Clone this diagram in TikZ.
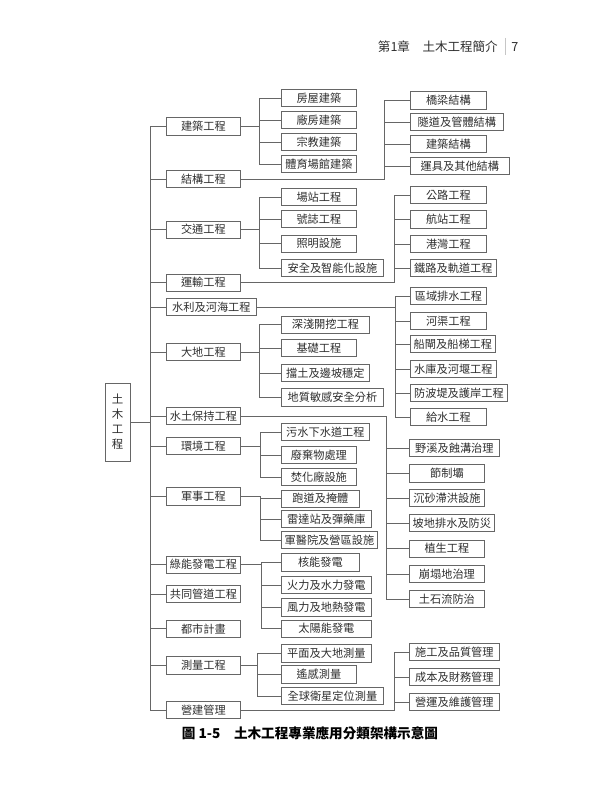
\documentclass[tikz,border=0pt]{standalone}
\usepackage{fontspec}
\setmainfont{Noto Sans CJK TC}
\definecolor{linegray}{HTML}{666666}
\definecolor{textgray}{HTML}{2E2E2E}

\begin{document}
\begin{tikzpicture}[x=0.75pt,y=-0.75pt,
    box/.style={draw=linegray,line width=0.6pt,minimum height=13pt,inner sep=0pt,
      anchor=west,text=textgray,font=\fontsize{8.4}{10}\selectfont},
    wd/.style={minimum width={#1*0.75pt}},
    link/.style={draw=linegray,line width=0.6pt}]
    \useasboundingbox (0,0) rectangle (600,812);
    %% Header
    \node[anchor=east,inner sep=0pt,text=textgray,font=\fontsize{9.4}{11}\selectfont]
        (hd) at (498,46.7) {第1章　土木工程簡介};
    \draw[gray!45,line width=0.5pt] (505.7,38) -- (505.7,55);
    \node[anchor=west,inner sep=0pt,text=textgray,font=\fontsize{9.4}{11}\selectfont]
        (pg) at (511,46.7) {7};
    %% Root
    \node[draw=linegray,line width=0.6pt,minimum width=18.75pt,minimum height=58.5pt,
        inner sep=0pt,align=center,text=textgray,font=\fontsize{8.6}{11.25}\selectfont]
        (root) at (117.5,422) {土\\木\\工\\程};
    %% First level
    \node[box,wd=74] (jz) at (166,126.5) {建築工程};
    \node[box,wd=74] (jg) at (166,179) {結構工程};
    \node[box,wd=74] (jt) at (166,229.7) {交通工程};
    \node[box,wd=74] (ys) at (166,282.7) {運輸工程};
    \node[box,wd=90] (sl) at (166,307) {水利及河海工程};
    \node[box,wd=74] (dd) at (166,352) {大地工程};
    \node[box,wd=74] (st) at (166,416) {水土保持工程};
    \node[box,wd=74] (hj) at (166,446) {環境工程};
    \node[box,wd=74] (js) at (166,496.5) {軍事工程};
    \node[box,wd=74] (ln) at (166,564.7) {綠能發電工程};
    \node[box,wd=74] (gt) at (166,594) {共同管道工程};
    \node[box,wd=74] (ds) at (166,628.7) {都市計畫};
    \node[box,wd=74] (cl) at (166,665.5) {測量工程};
    \node[box,wd=74] (yj) at (166,710) {營建管理};
    %% Trunk
    \coordinate (tk) at (150,422);
    \draw[link] (root.east) -- (tk);
    \foreach \c in {jz,jg,jt,ys,sl,dd,st,hj,js,ln,gt,ds,cl,yj}
        \draw[link] (tk) |- (\c.west);
    %% Middle column
    \node[box,wd=75] (fw) at (281,98) {房屋建築};
    \node[box,wd=75] (cf) at (281,120) {廠房建築};
    \node[box,wd=75] (zj) at (281,142) {宗教建築};
    \node[box,wd=75] (ty) at (281,164) {體育場館建築};
    \node[box,wd=75] (cz) at (281,197) {場站工程};
    \node[box,wd=75] (hz) at (281,219) {號誌工程};
    \node[box,wd=75] (zm) at (281,243.7) {照明設施};
    \node[box,wd=102] (aq) at (281,268) {安全及智能化設施};
    \node[box,wd=88] (sq) at (281,324.7) {深淺開挖工程};
    \node[box,wd=75] (jc) at (281,348) {基礎工程};
    \node[box,wd=88] (dt) at (281,373) {擋土及邊坡穩定};
    \node[box,wd=102] (dz) at (281,397.5) {地質敏感安全分析};
    \node[box,wd=88] (ws) at (281,432) {污水下水道工程};
    \node[box,wd=75] (fq) at (281,455) {廢棄物處理};
    \node[box,wd=75] (fh) at (281,477) {焚化廠設施};
    \node[box,wd=78] (pd) at (281,498.7) {跑道及掩體};
    \node[box,wd=90] (ld) at (281,519) {雷達站及彈藥庫};
    \node[box,wd=96] (jy) at (281,540) {軍醫院及營區設施};
    \node[box,wd=78] (hn) at (281,562.5) {核能發電};
    \node[box,wd=90] (hl) at (281,585) {火力及水力發電};
    \node[box,wd=90] (fl) at (281,607.5) {風力及地熱發電};
    \node[box,wd=90] (ty2) at (281,628.7) {太陽能發電};
    \node[box,wd=90] (pm) at (281,653.5) {平面及大地測量};
    \node[box,wd=75] (yg) at (281,674.5) {遙感測量};
    \node[box,wd=102] (qq) at (281,696) {全球衛星定位測量};
    %% Right column
    \node[box,wd=76] (ql) at (410,100.5) {橋梁結構};
    \node[box,wd=93] (sd) at (410,122) {隧道及管體結構};
    \node[box,wd=76] (jj) at (410,144) {建築結構};
    \node[box,wd=99] (yjq) at (410,166) {運具及其他結構};
    \node[box,wd=76] (gl) at (410,195) {公路工程};
    \node[box,wd=76] (hzz) at (410,219.5) {航站工程};
    \node[box,wd=76] (gw) at (410,244) {港灣工程};
    \node[box,wd=86] (tl) at (410,268) {鐵路及軌道工程};
    \node[box,wd=76] (qy) at (410,296) {區域排水工程};
    \node[box,wd=76] (hq) at (410,321) {河渠工程};
    \node[box,wd=85] (cz2) at (410,344) {船閘及船梯工程};
    \node[box,wd=86] (sk) at (410,369) {水庫及河堰工程};
    \node[box,wd=97] (fb) at (410,393) {防波堤及護岸工程};
    \node[box,wd=76] (gs) at (410,417) {給水工程};
    \node[box,wd=90] (yx) at (409,448) {野溪及蝕溝治理};
    \node[box,wd=75] (jzb) at (409,473.5) {節制壩};
    \node[box,wd=75] (cs) at (409,498) {沉砂滯洪設施};
    \node[box,wd=85] (pdp) at (409,523) {坡地排水及防災};
    \node[box,wd=75] (zs) at (409,548.7) {植生工程};
    \node[box,wd=75] (bt) at (409,574) {崩塌地治理};
    \node[box,wd=75] (tsl) at (409,599) {土石流防治};
    \node[box,wd=90] (sg) at (409,652) {施工及品質管理};
    \node[box,wd=90] (cb) at (409,677) {成本及財務管理};
    \node[box,wd=90] (yy) at (409,702) {營運及維護管理};
    %% Brackets
    \path (jz.east) ++(19,0) coordinate (bjz);
    \draw[link] (jz.east) -- (bjz);
    \foreach \c in {fw,cf,zj,ty} \draw[link] (bjz) |- (\c.west);
    \path (jt.east) ++(19,0) coordinate (bjt);
    \draw[link] (jt.east) -- (bjt);
    \foreach \c in {cz,hz,zm,aq} \draw[link] (bjt) |- (\c.west);
    \path (dd.east) ++(19,0) coordinate (bdd);
    \draw[link] (dd.east) -- (bdd);
    \foreach \c in {sq,jc,dt,dz} \draw[link] (bdd) |- (\c.west);
    \path (hj.east) ++(20,0) coordinate (bhj);
    \draw[link] (hj.east) -- (bhj);
    \foreach \c in {ws,fq,fh} \draw[link] (bhj) |- (\c.west);
    \path (js.east) ++(20,0) coordinate (bjs);
    \draw[link] (js.east) -- (bjs);
    \foreach \c in {pd,ld,jy} \draw[link] (bjs) |- (\c.west);
    \path (ln.east) ++(21,0) coordinate (bln);
    \draw[link] (ln.east) -- (bln);
    \foreach \c in {hn,hl,fl,ty2} \draw[link] (bln) |- (\c.west);
    \path (cl.east) ++(17,0) coordinate (bcl);
    \draw[link] (cl.east) -- (bcl);
    \foreach \c in {pm,yg,qq} \draw[link] (bcl) |- (\c.west);
    \path (jg.east) ++(144,0) coordinate (bjg);
    \draw[link] (jg.east) -- (bjg);
    \foreach \c in {ql,sd,jj,yjq} \draw[link] (bjg) |- (\c.west);
    \path (ys.east) ++(154,0) coordinate (bys);
    \draw[link] (ys.east) -- (bys);
    \foreach \c in {gl,hzz,gw,tl} \draw[link] (bys) |- (\c.west);
    \path (sl.east) ++(139,0) coordinate (bsl);
    \draw[link] (sl.east) -- (bsl);
    \foreach \c in {qy,hq,cz2,sk,fb,gs} \draw[link] (bsl) |- (\c.west);
    \path (st.east) ++(146,0) coordinate (bst);
    \draw[link] (st.east) -- (bst);
    \foreach \c in {yx,jzb,cs,pdp,zs,bt,tsl} \draw[link] (bst) |- (\c.west);
    \path (yj.east) ++(154,0) coordinate (byj);
    \draw[link] (yj.east) -- (byj);
    \foreach \c in {sg,cb,yy} \draw[link] (byj) |- (\c.west);
    %% Caption
    \node[font=\fontsize{10.2}{12}\selectfont\bfseries,inner sep=0pt]
        (cap) at (310,733.3) {圖 1-5　土木工程專業應用分類架構示意圖};
\end{tikzpicture}
\end{document}
